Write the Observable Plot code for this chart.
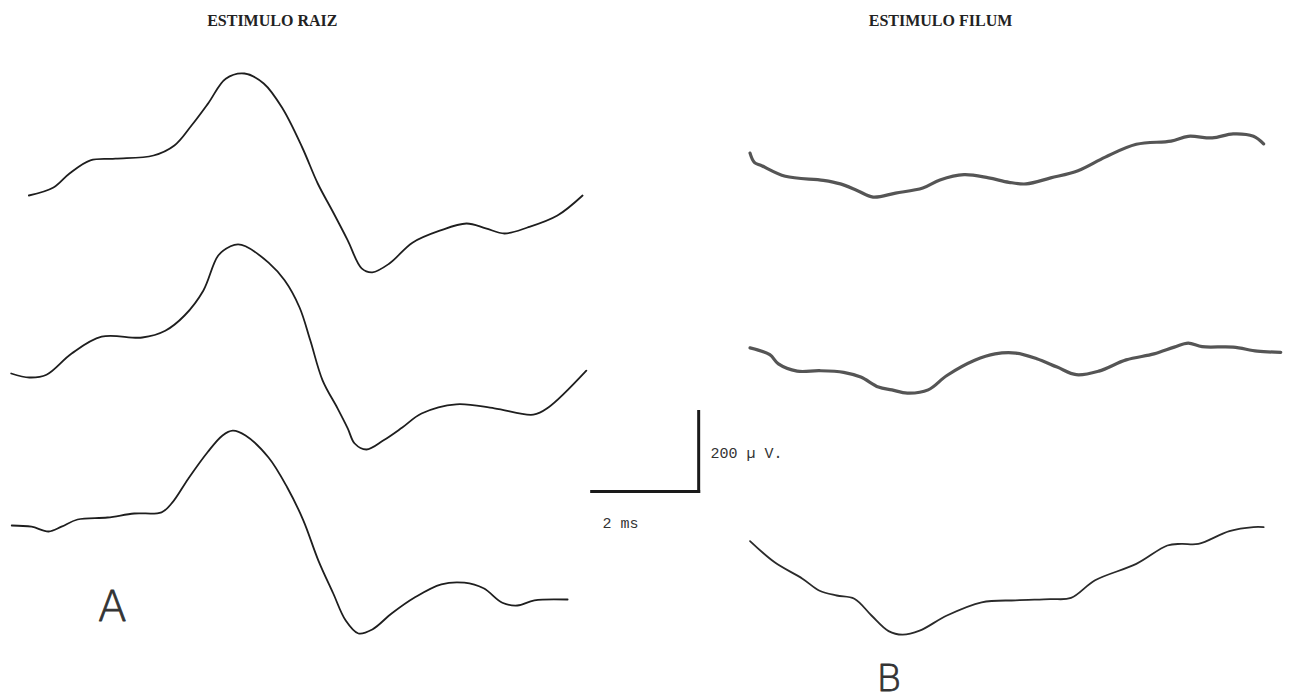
<!DOCTYPE html>
<html>
<head>
<meta charset="utf-8">
<script src="https://cdn.jsdelivr.net/npm/d3@7"></script>
<script src="https://cdn.jsdelivr.net/npm/@observablehq/plot@0.6"></script>
<style>
  html, body { margin: 0; padding: 0; background: #fff; }
  #chart svg { display: block; }
</style>
</head>
<body>
<div id="chart"></div>
<script>
// Time in ms, amplitude in µV (figure coordinates)
const rootTrace1T = [0.53,0.99,1.29,1.68,2.15,2.86,3.25,3.57,3.89,4.21,4.56,4.92,5.27,5.64,5.93,6.21,6.49,6.75,6.95,7.27,7.70,8.21,8.71,9.07,9.42,9.85,10.41,10.88];
const rootTrace1V = [1260,1280,1315,1348,1352,1360,1385,1435,1492,1552,1565,1540,1478,1380,1290,1220,1148,1078,1068,1090,1142,1172,1190,1178,1165,1180,1210,1260];

const rootTrace2T = [0.20,0.54,0.86,1.33,1.89,2.65,3.08,3.44,3.79,4.07,4.30,4.44,4.58,5.01,5.31,5.59,5.79,6.02,6.30,6.49,6.62,6.84,7.16,7.51,7.87,8.52,9.23,9.96,10.24,10.95];
const rootTrace2V = [815,805,812,865,907,905,922,960,1022,1110,1133,1138,1133,1092,1048,980,898,798,728,678,640,625,648,680,715,738,728,712,730,822];

const rootTrace3T = [0.21,0.58,0.90,1.14,1.44,2.00,2.50,3.01,3.21,3.51,3.87,4.15,4.34,4.58,5.01,5.36,5.66,5.94,6.22,6.45,6.69,6.95,7.31,7.74,8.24,8.67,9.03,9.38,9.66,9.98,10.60];
const rootTrace3V = [435,432,420,432,450,455,465,468,492,552,618,660,672,660,605,530,448,348,265,198,165,175,215,255,288,292,278,242,235,248,250];

const filumTrace1T = [14.01,14.09,14.22,14.67,15.38,15.70,16.02,16.31,16.73,17.24,17.56,18.01,18.47,18.85,19.17,19.63,20.14,20.65,21.23,21.88,22.20,22.65,23.04,23.42,23.61];
const filumTrace1V = [1366,1343,1335,1308,1298,1289,1272,1256,1266,1279,1299,1312,1304,1293,1289,1304,1322,1356,1388,1396,1408,1404,1414,1408,1389];

const filumTrace2T = [14.01,14.38,14.54,14.89,15.31,15.76,16.08,16.41,16.66,16.95,17.34,17.69,18.21,18.59,18.98,19.37,19.75,20.11,20.53,21.04,21.56,21.94,22.20,22.46,23.04,23.49,23.93];
const filumTrace2V = [879,862,839,821,822,818,806,781,774,766,774,810,848,864,866,852,831,812,821,849,864,881,891,882,881,871,868];

const filumTrace3T = [14.01,14.47,14.99,15.31,15.63,15.96,16.28,16.60,16.86,17.18,17.69,18.34,18.98,19.62,20.01,20.46,21.23,21.81,22.07,22.39,22.97,23.42,23.61];
const filumTrace3V = [396,343,302,272,260,252,210,171,162,172,210,243,248,251,254,298,339,385,389,389,421,431,431];

// Calibration bar: 2 ms horizontal, 200 µV vertical
const barTimeMs = 2;
const barAmpUV = 200;

const panelTitles = ["ESTIMULO RAIZ", "ESTIMULO FILUM"];
const panelLetters = ["A", "B"];
const barLabels = ["200 µ V.", "2 ms"];

function toRows(ts, vs, id) { return ts.map((t, i) => ({t, v: vs[i], id})); }

const rootRows = [
  ...toRows(rootTrace1T, rootTrace1V, "r1"),
  ...toRows(rootTrace2T, rootTrace2V, "r2"),
  ...toRows(rootTrace3T, rootTrace3V, "r3")
];
const filumThick = [
  ...toRows(filumTrace1T, filumTrace1V, "f1"),
  ...toRows(filumTrace2T, filumTrace2V, "f2")
];
const filumThin = toRows(filumTrace3T, filumTrace3V, "f3");

// bar anchor (corner) in ms / µV
const barX0 = 11.05, barY0 = 520;
const barRows = [
  {x1: barX0, y1: barY0, x2: barX0 + barTimeMs, y2: barY0},
  {x1: barX0 + barTimeMs, y1: barY0, x2: barX0 + barTimeMs, y2: barY0 + barAmpUV}
];

const W = 1294, H = 699;
const pxPerMs = 53.5, uvPerPx = 2.5;

const chart = Plot.plot({
  width: W,
  height: H,
  margin: 0,
  x: {domain: [0, W / pxPerMs], axis: null},
  y: {domain: [0, H * uvPerPx], axis: null},
  style: {background: "#fff"},
  marks: [
    Plot.line(rootRows, {x: "t", y: "v", z: "id", stroke: "#1e1e1e", strokeWidth: 1.8, curve: "catmull-rom"}),
    Plot.line(filumThick, {x: "t", y: "v", z: "id", stroke: "#555", strokeWidth: 3.2, curve: "catmull-rom"}),
    Plot.line(filumThin, {x: "t", y: "v", z: "id", stroke: "#2a2a2a", strokeWidth: 1.8, curve: "catmull-rom"}),
    Plot.link(barRows, {x1: "x1", y1: "y1", x2: "x2", y2: "y2", stroke: "#1a1a1a", strokeWidth: 3, strokeLinecap: "square"}),
    Plot.text([panelTitles[0]], {x: [5.08], y: [1697], text: d => d, fontFamily: "Liberation Serif", fontWeight: "bold", fontSize: 16, fill: "#222"}),
    Plot.text([panelTitles[1]], {x: [17.57], y: [1697], text: d => d, fontFamily: "Liberation Serif", fontWeight: "bold", fontSize: 16, fill: "#222"}),
    Plot.text([barLabels[0]], {x: [13.27], y: [617], text: d => d, textAnchor: "start", fontFamily: "Liberation Mono", fontSize: 15, letterSpacing: 0.6, fill: "#333"}),
    Plot.text([barLabels[1]], {x: [11.25], y: [440], text: d => d, textAnchor: "start", fontFamily: "Liberation Mono", fontSize: 15, letterSpacing: 3, fill: "#333"}),
    Plot.text([panelLetters[0]], {x: [2.09], y: [230], text: d => d, fontFamily: "DejaVu Sans", fontWeight: 300, fontSize: 42, fill: "#333", stroke: "#333", strokeWidth: 0.8}),
    Plot.text([panelLetters[1]], {x: [16.6], y: [52], text: d => d, fontFamily: "DejaVu Sans", fontWeight: 300, fontSize: 38, fill: "#333", stroke: "#333", strokeWidth: 0.8})
  ]
});
document.getElementById("chart").appendChild(chart);
</script>
</body>
</html>
